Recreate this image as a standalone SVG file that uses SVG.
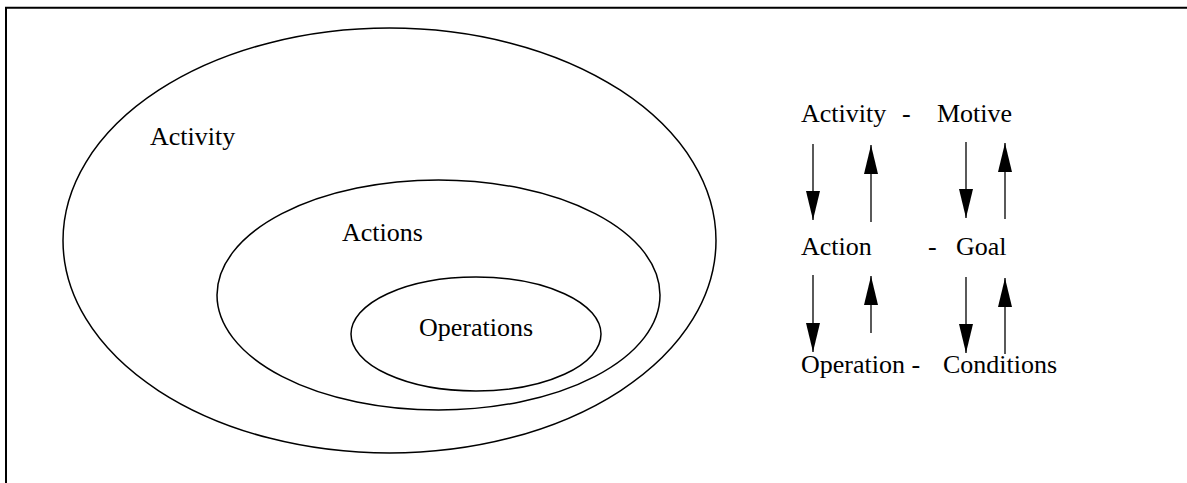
<svg xmlns="http://www.w3.org/2000/svg" width="1187" height="483" viewBox="0 0 1187 483" font-family="Liberation Serif, serif">
<style>
text{font-size:26px;fill:#000}
.e{fill:none;stroke:#000;stroke-width:1.5}
.a{stroke:#000;stroke-width:1.3;fill:none}
</style>
<defs>
<marker id="ah" markerUnits="userSpaceOnUse" markerWidth="29" markerHeight="14" viewBox="0 0 29 14" refX="29" refY="7" orient="auto">
<path d="M0,0 L29,7 L0,14 Z" fill="#000"/>
</marker>
</defs>
<rect width="1187" height="483" fill="#fff"/>
<path d="M6,483 V7.8 H1187" fill="none" stroke="#000" stroke-width="2"/>
<g id="activity"><ellipse class="e" cx="389.5" cy="240.5" rx="326.5" ry="212.5"/><text x="150" y="145" font-family="Liberation Serif">Activity</text></g>
<g id="actions"><ellipse class="e" cx="438.5" cy="295" rx="221.5" ry="115"/><text x="342" y="241" font-family="Liberation Serif">Actions</text></g>
<g id="operations"><ellipse class="e" cx="476" cy="334" rx="125" ry="57"/><text x="419" y="336" font-family="Liberation Serif">Operations</text></g>
<g id="row1" font-family="Liberation Serif"><text x="801" y="122">Activity</text><text x="902" y="122">-</text><text x="937" y="122">Motive</text></g>
<g id="row2" font-family="Liberation Serif"><text x="801" y="255">Action</text><text x="928" y="255">-</text><text x="956" y="255">Goal</text></g>
<g id="row3" font-family="Liberation Serif"><text x="801" y="373">Operation -</text><text x="943" y="373">Conditions</text></g>
<g id="connectors">
<line class="a" x1="813" y1="144" x2="813" y2="220" marker-end="url(#ah)"/>
<line class="a" x1="871" y1="222" x2="871" y2="145" marker-end="url(#ah)"/>
<line class="a" x1="966" y1="142" x2="966" y2="218" marker-end="url(#ah)"/>
<line class="a" x1="1005" y1="219" x2="1005" y2="143" marker-end="url(#ah)"/>
<line class="a" x1="813" y1="275" x2="813" y2="352" marker-end="url(#ah)"/>
<line class="a" x1="871" y1="333" x2="871" y2="276" marker-end="url(#ah)"/>
<line class="a" x1="966" y1="277" x2="966" y2="353" marker-end="url(#ah)"/>
<line class="a" x1="1005" y1="354" x2="1005" y2="278" marker-end="url(#ah)"/>
</g>
</svg>
